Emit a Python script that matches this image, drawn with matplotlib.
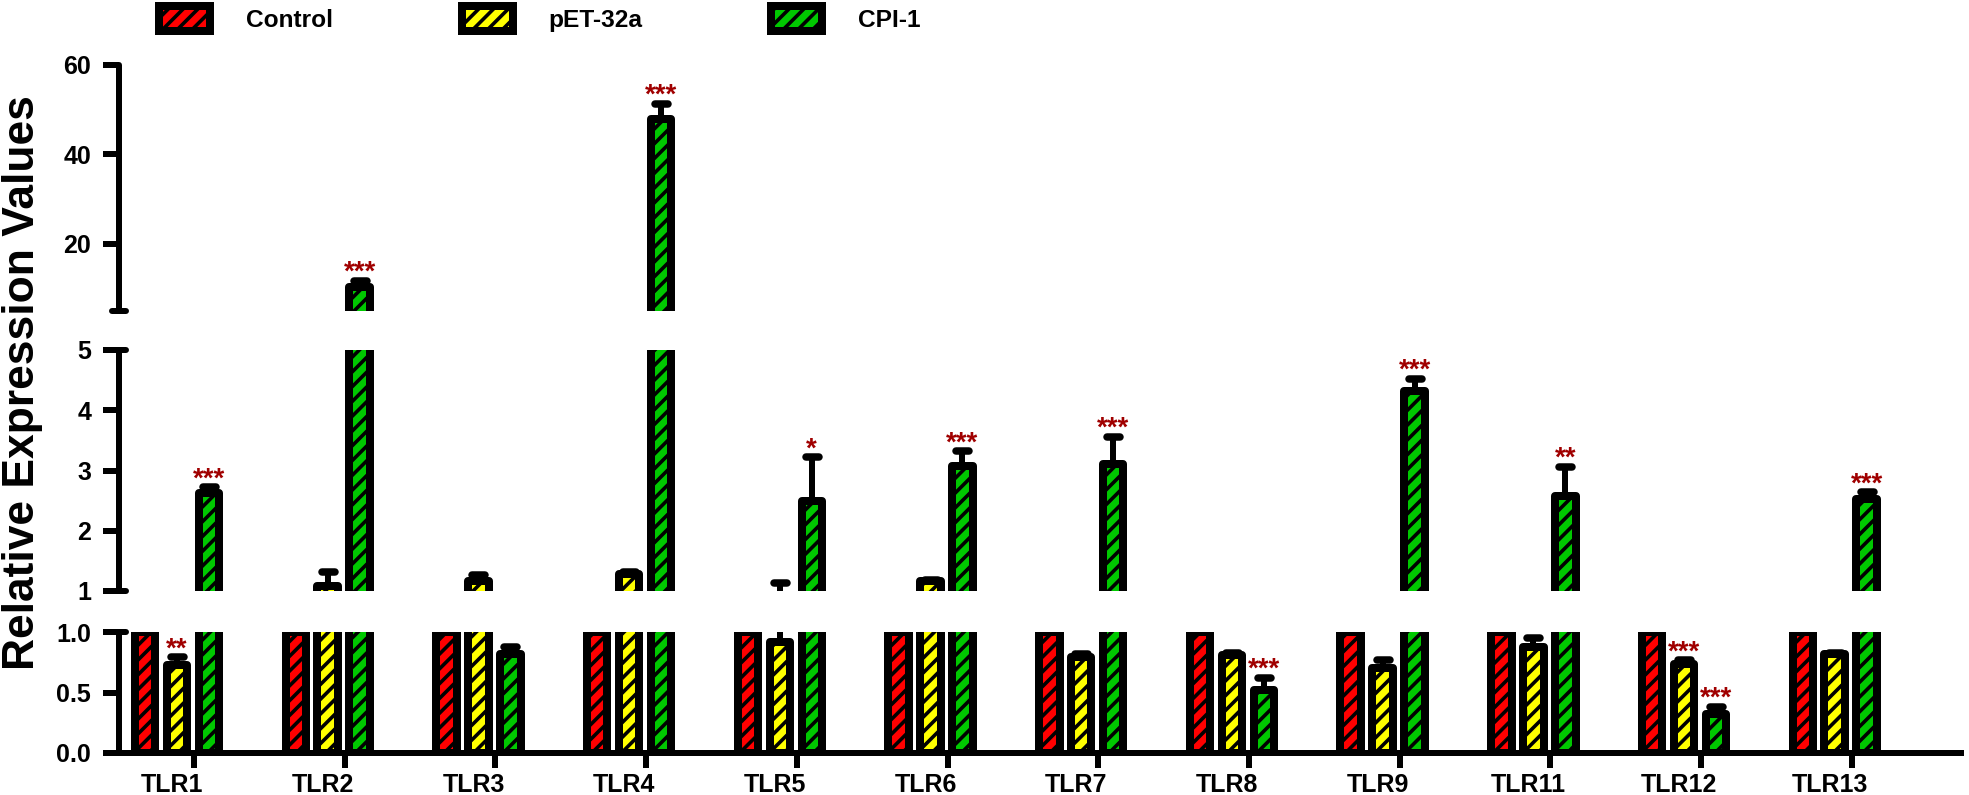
import numpy as np
import matplotlib
matplotlib.use('Agg')
import matplotlib.pyplot as plt
from matplotlib.markers import MarkerStyle

# ---------------------------------------------------------------------------
# Data
# ---------------------------------------------------------------------------
genes = ['TLR1', 'TLR2', 'TLR3', 'TLR4', 'TLR5', 'TLR6',
         'TLR7', 'TLR8', 'TLR9', 'TLR11', 'TLR12', 'TLR13']
groups = ['Control', 'pET-32a', 'CPI-1']

control_mean = [1.0] * 12
control_err = [0.0] * 12
pet_mean = [0.73, 1.08, 1.17, 1.28, 0.92, 1.16, 0.79, 0.81, 0.70, 0.88, 0.735, 0.815]
pet_err = [0.06, 0.24, 0.10, 0.03, 0.21, 0.03, 0.03, 0.02, 0.07, 0.07, 0.03, 0.015]
cpi_mean = [2.62, 10.4, 0.82, 47.9, 2.50, 3.08, 3.11, 0.52, 4.32, 2.58, 0.32, 2.52]
cpi_err = [0.10, 1.3, 0.06, 3.4, 0.72, 0.24, 0.45, 0.10, 0.20, 0.48, 0.06, 0.12]

pet_sig = ['**', '', '', '', '', '', '', '', '', '', '***', '']
cpi_sig = ['***', '***', '', '***', '*', '***', '***', '***', '***', '**', '***', '***']

colors = ['#FF0000', '#FFFF00', '#00C800']
star_color = '#A00000'

# broken y axis: (low, high) per segment, top to bottom
segments = [(5, 60), (1, 5), (0, 1.0)]
seg_ticks = [[20, 40, 60], [1, 2, 3, 4, 5], [0, 0.5, 1.0]]
seg_labels = [['20', '40', '60'], ['1', '2', '3', '4', '5'], ['0.0', '0.5', '1.0']]

# ---------------------------------------------------------------------------
# Style
# ---------------------------------------------------------------------------
DPI = 133
W, H = 1969, 795


def px(v):
    """pixels -> points"""
    return v * 72.0 / DPI


plt.rcParams['font.family'] = ['Liberation Sans', 'DejaVu Sans']
plt.rcParams['font.weight'] = 'bold'
plt.rcParams['hatch.linewidth'] = px(3.6)
plt.rcParams['hatch.color'] = 'black'

fig = plt.figure(figsize=(W / DPI, H / DPI), dpi=DPI)

# axes boxes in pixels (top, bottom) for each segment
x_left, x_right = 119, 1961
seg_px = [(65, 311), (350, 591), (632, 753)]

pos = np.arange(len(genes))
pitch = 0.212
bar_w = 0.136
offsets = [-pitch, 0.0, pitch]
xlim = (-0.385, 11.838)

series = [
    (np.array(control_mean), np.array(control_err)),
    (np.array(pet_mean), np.array(pet_err)),
    (np.array(cpi_mean), np.array(cpi_err)),
]
sigs = [None, pet_sig, cpi_sig]

axes = []
bar_handles = []
for s, ((lo, hi), (ytop, ybot)) in enumerate(zip(segments, seg_px)):
    ax = fig.add_axes([x_left / W, 1 - ybot / H, (x_right - x_left) / W, (ybot - ytop) / H])
    axes.append(ax)
    ax.set_xlim(*xlim)
    ax.set_ylim(lo, hi)

    for k, (means, errs) in enumerate(series):
        x = pos + offsets[k]
        idx = means > lo
        bars = ax.bar(x[idx], means[idx], width=bar_w, color=colors[k],
                      edgecolor='black', linewidth=px(8), hatch='///',
                      joinstyle='round', zorder=2, label=groups[k])
        if s == 2:
            bar_handles.append(bars)
        eidx = (errs > 0) & (means + errs > lo)
        if eidx.any():
            eb = ax.errorbar(x[eidx], means[eidx],
                             yerr=[np.zeros(eidx.sum()), errs[eidx]],
                             fmt='none', ecolor='black', elinewidth=px(6),
                             capsize=px(6.5), capthick=px(7.5), zorder=3)
            for cl in eb[1]:
                cl.set_marker(MarkerStyle('_', capstyle='round'))
            for ln in eb[2]:
                ln.set_capstyle('round')

        # significance stars
        if sigs[k] is not None:
            for i, txt in enumerate(sigs[k]):
                if not txt:
                    continue
                top = means[i] + errs[i]
                if lo < top <= hi:
                    ax.annotate(txt, (x[i], top), xytext=(0, px(1)),
                                textcoords='offset points', ha='center',
                                va='baseline', color=star_color,
                                fontsize=15, fontweight='bold', zorder=4)

    # spines / ticks
    for side in ['top', 'right']:
        ax.spines[side].set_visible(False)
    ax.spines['left'].set_linewidth(px(6))
    ax.spines['left'].set_capstyle('round')
    ax.set_yticks(seg_ticks[s])
    ax.set_yticklabels(seg_labels[s])
    ax.tick_params(axis='y', length=px(16), width=px(6), pad=px(12),
                   labelsize=13.5, direction='out')
    for t in ax.yaxis.get_ticklines():
        t.set_solid_capstyle('round')

    if s < 2:
        ax.spines['bottom'].set_visible(False)
        ax.set_xticks([])
    else:
        ax.spines['bottom'].set_linewidth(px(6))
        ax.set_xticks(pos + 0.113)
        ax.set_xticklabels([''] * len(genes))
        ax.tick_params(axis='x', which='major', length=px(15), width=px(6), direction='out')
        ax.set_xticks(pos - 0.033, minor=True)
        ax.set_xticklabels(genes, minor=True)
        ax.tick_params(axis='x', which='minor', length=0, pad=px(20), labelsize=13.5)

    # break caps at the segment ends
    cap_marker = MarkerStyle('_', capstyle='round')
    ends = {0: [0], 1: [0, 1], 2: [1]}[s]
    for yy in ends:
        ax.plot([0], [yy], marker=cap_marker, markersize=px(14),
                markeredgewidth=px(6), color='black', transform=ax.transAxes,
                clip_on=False, zorder=5)

fig.text(23 / W, 1 - 383 / H, 'Relative Expression Values', rotation=90,
         ha='center', va='center', fontsize=24, fontweight='bold')

fig.legend(handles=bar_handles, labels=groups, loc='upper left',
           bbox_to_anchor=(159 / W, 1 - 6 / H), ncol=3, frameon=False,
           fontsize=13.25, handlelength=2.08, handleheight=1.17,
           handletextpad=1.48, columnspacing=5.25, borderpad=0,
           borderaxespad=0)

fig.savefig('out.png', dpi=DPI)
